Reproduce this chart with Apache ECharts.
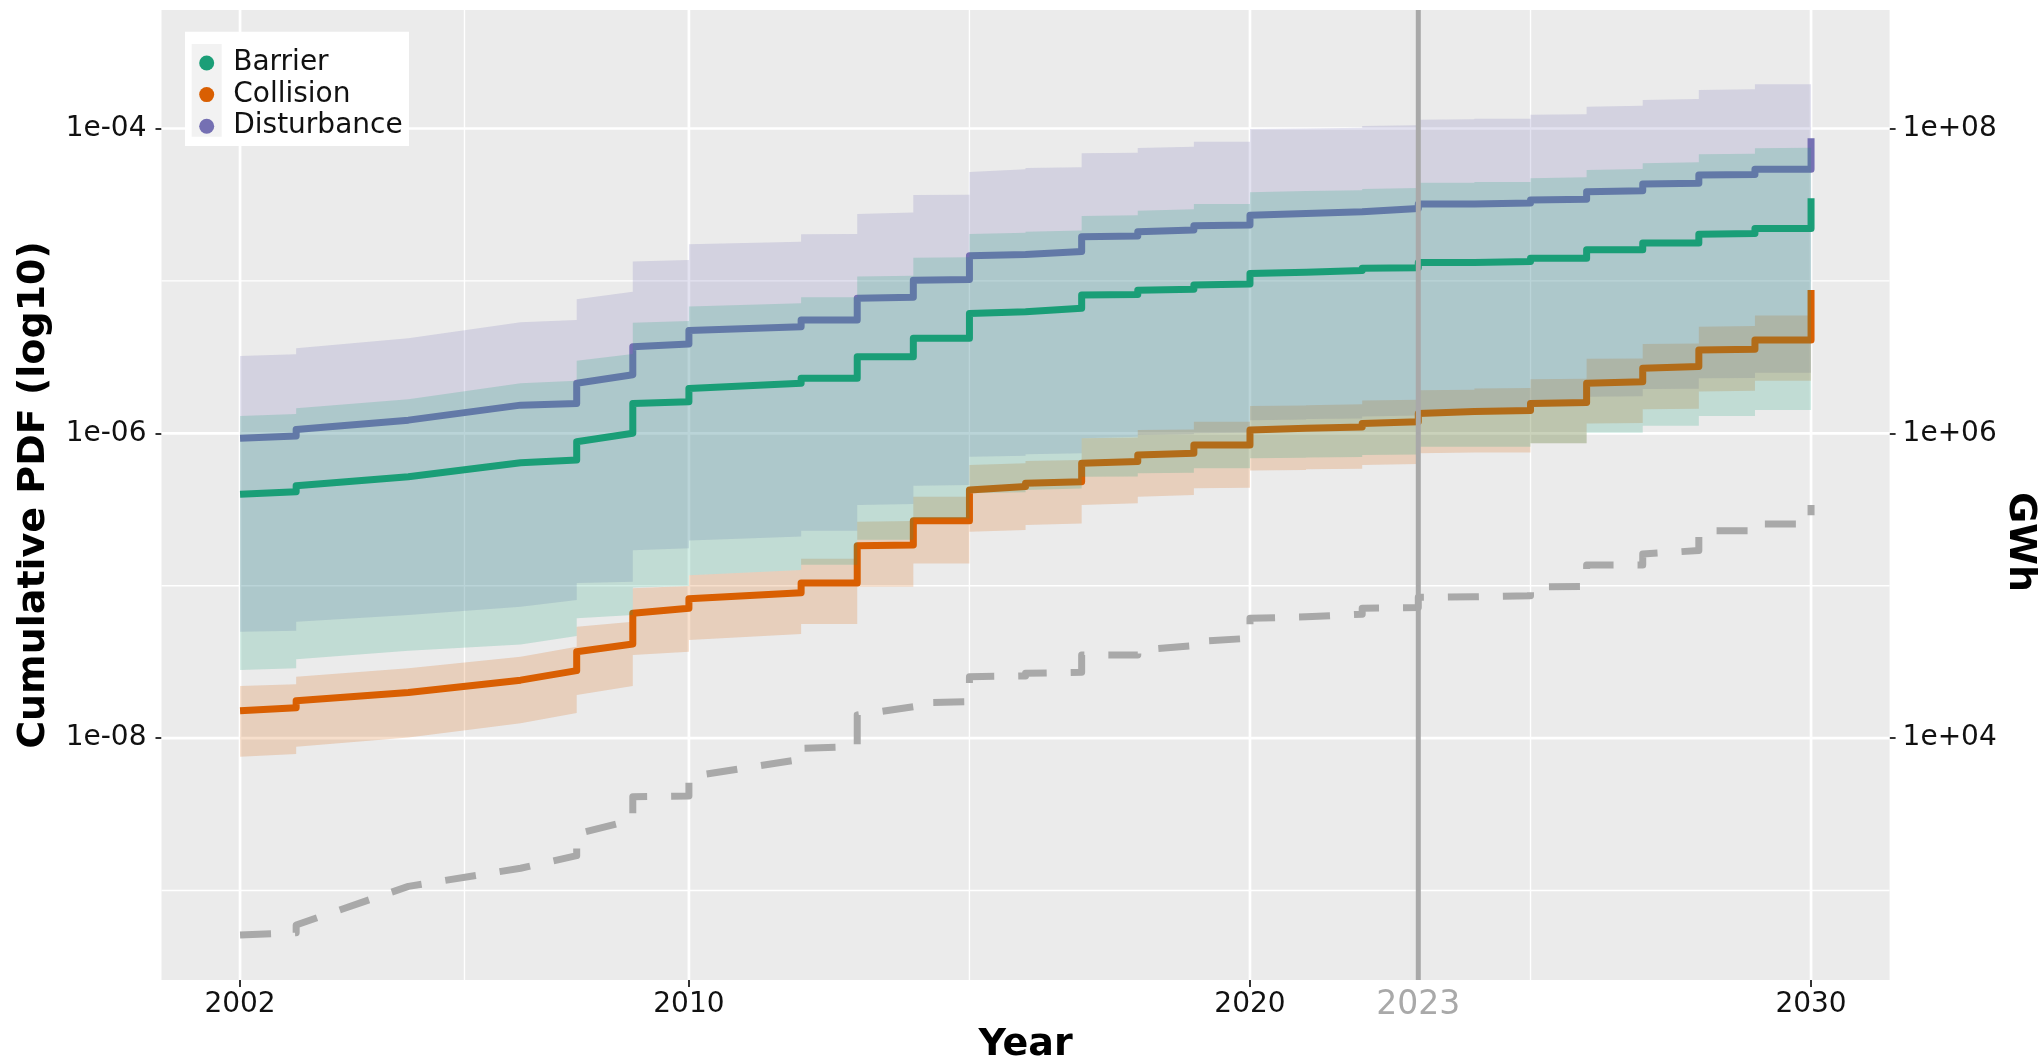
<!DOCTYPE html>
<html>
<head>
<meta charset="utf-8">
<script src="https://cdn.jsdelivr.net/npm/echarts@6/dist/echarts.min.js"></script>
<style>html,body{margin:0;padding:0;background:#fff;}#chart{width:2043px;height:1062px;}</style>
</head>
<body>
<div id="chart"></div>
<script>
// ---------- data ----------
const stepYears = [2002, 2003, 2005, 2007, 2008, 2009, 2010, 2012, 2013, 2014, 2015, 2016, 2017, 2018, 2019, 2020, 2021, 2022, 2023, 2024, 2025, 2026, 2027, 2028, 2029, 2030];

// value just before the step at each year / value right after it
const barrierBefore = [3.98e-7, 4.14e-7, 5.19e-7, 6.41e-7, 6.68e-7, 1.00e-6, 1.61e-6, 2.13e-6, 2.30e-6, 3.18e-6, 4.20e-6, 6.28e-6, 6.61e-6, 8.13e-6, 8.81e-6, 9.55e-6, 1.14e-5, 1.17e-5, 1.22e-5, 1.32e-5, 1.34e-5, 1.41e-5, 1.60e-5, 1.77e-5, 2.05e-5, 2.21e-5];
const barrierAfter  = [3.98e-7, 4.53e-7, 5.19e-7, 6.41e-7, 8.81e-7, 1.57e-6, 1.97e-6, 2.30e-6, 3.18e-6, 4.20e-6, 6.12e-6, 6.44e-6, 8.07e-6, 8.67e-6, 9.40e-6, 1.12e-5, 1.15e-5, 1.21e-5, 1.32e-5, 1.34e-5, 1.41e-5, 1.60e-5, 1.77e-5, 2.02e-5, 2.21e-5, 3.48e-5];
const barrierHiBefore = [1.30e-6, 1.34e-6, 1.67e-6, 2.13e-6, 2.21e-6, 3.31e-6, 5.46e-6, 7.13e-6, 7.80e-6, 1.08e-5, 1.43e-5, 2.07e-5, 2.14e-5, 2.70e-5, 2.95e-5, 3.20e-5, 3.89e-5, 3.94e-5, 4.07e-5, 4.41e-5, 4.46e-5, 4.79e-5, 5.42e-5, 6.00e-5, 6.84e-5, 7.48e-5];
const barrierHiAfter  = [1.30e-6, 1.46e-6, 1.67e-6, 2.13e-6, 2.99e-6, 5.32e-6, 6.78e-6, 7.80e-6, 1.07e-5, 1.42e-5, 2.03e-5, 2.10e-5, 2.67e-5, 2.89e-5, 3.20e-5, 3.81e-5, 3.89e-5, 4.01e-5, 4.41e-5, 4.46e-5, 4.71e-5, 5.35e-5, 5.92e-5, 6.78e-5, 7.41e-5, 7.48e-5];
const barrierLoBefore = [2.80e-8, 2.87e-8, 3.74e-8, 4.12e-8, 4.68e-8, 6.43e-8, 9.95e-8, 1.27e-7, 1.37e-7, 2.00e-7, 2.76e-7, 4.10e-7, 4.35e-7, 5.20e-7, 5.50e-7, 5.90e-7, 6.90e-7, 7.00e-7, 7.25e-7, 8.16e-7, 8.16e-7, 8.60e-7, 1.01e-6, 1.12e-6, 1.30e-6, 1.42e-6];
const barrierLoAfter  = [2.80e-8, 3.29e-8, 3.74e-8, 4.12e-8, 6.11e-8, 9.75e-8, 1.17e-7, 1.37e-7, 2.00e-7, 2.76e-7, 4.04e-7, 4.25e-7, 5.19e-7, 5.46e-7, 5.89e-7, 6.86e-7, 6.95e-7, 7.21e-7, 8.16e-7, 8.16e-7, 8.60e-7, 1.01e-6, 1.12e-6, 1.30e-6, 1.42e-6, 1.42e-6];

const collisionBefore = [1.51e-8, 1.58e-8, 1.99e-8, 2.40e-8, 2.77e-8, 4.14e-8, 7.11e-8, 8.99e-8, 1.04e-7, 1.85e-7, 2.67e-7, 4.47e-7, 4.81e-7, 6.52e-7, 7.40e-7, 8.38e-7, 1.08e-6, 1.10e-6, 1.19e-6, 1.39e-6, 1.41e-6, 1.59e-6, 2.18e-6, 2.74e-6, 3.56e-6, 4.09e-6];
const collisionAfter  = [1.51e-8, 1.76e-8, 1.99e-8, 2.40e-8, 3.69e-8, 6.59e-8, 8.20e-8, 1.04e-7, 1.83e-7, 2.67e-7, 4.25e-7, 4.70e-7, 6.35e-7, 7.21e-7, 8.38e-7, 1.05e-6, 1.08e-6, 1.16e-6, 1.35e-6, 1.41e-6, 1.57e-6, 2.13e-6, 2.67e-6, 3.52e-6, 4.09e-6, 8.71e-6];
const collisionHiBefore = [2.20e-8, 2.26e-8, 2.87e-8, 3.42e-8, 3.98e-8, 5.81e-8, 9.95e-8, 1.27e-7, 1.50e-7, 2.66e-7, 3.84e-7, 6.35e-7, 6.68e-7, 9.38e-7, 1.06e-6, 1.19e-6, 1.52e-6, 1.55e-6, 1.66e-6, 1.93e-6, 1.98e-6, 2.28e-6, 3.10e-6, 3.88e-6, 5.05e-6, 5.94e-6];
const collisionHiAfter  = [2.20e-8, 2.53e-8, 2.87e-8, 3.42e-8, 5.38e-8, 9.61e-8, 1.17e-7, 1.50e-7, 2.63e-7, 3.84e-7, 6.19e-7, 6.58e-7, 9.27e-7, 1.05e-6, 1.19e-6, 1.51e-6, 1.53e-6, 1.64e-6, 1.92e-6, 1.97e-6, 2.26e-6, 3.08e-6, 3.85e-6, 5.01e-6, 5.94e-6, 5.94e-6];
const collisionLoBefore = [7.55e-9, 7.87e-9, 1.01e-8, 1.25e-8, 1.46e-8, 2.20e-8, 3.69e-8, 4.82e-8, 5.61e-8, 9.86e-8, 1.40e-7, 2.32e-7, 2.56e-7, 3.48e-7, 3.94e-7, 4.40e-7, 5.75e-7, 5.85e-7, 6.30e-7, 7.47e-7, 7.47e-7, 8.60e-7, 1.17e-6, 1.45e-6, 1.90e-6, 2.21e-6];
const collisionLoAfter  = [7.55e-9, 8.79e-9, 1.01e-8, 1.25e-8, 1.92e-8, 3.51e-8, 4.41e-8, 5.61e-8, 9.86e-8, 1.40e-7, 2.26e-7, 2.50e-7, 3.39e-7, 3.84e-7, 4.36e-7, 5.69e-7, 5.81e-7, 6.19e-7, 7.40e-7, 7.47e-7, 8.59e-7, 1.16e-6, 1.44e-6, 1.88e-6, 2.21e-6, 2.21e-6];

const disturbanceBefore = [9.27e-7, 9.59e-7, 1.22e-6, 1.53e-6, 1.57e-6, 2.42e-6, 3.85e-6, 5.01e-6, 5.53e-6, 7.80e-6, 1.02e-5, 1.49e-5, 1.56e-5, 1.97e-5, 2.16e-5, 2.33e-5, 2.77e-5, 2.84e-5, 2.99e-5, 3.20e-5, 3.25e-5, 3.43e-5, 3.91e-5, 4.37e-5, 5.00e-5, 5.40e-5];
const disturbanceAfter  = [9.27e-7, 1.06e-6, 1.22e-6, 1.53e-6, 2.13e-6, 3.70e-6, 4.73e-6, 5.53e-6, 7.69e-6, 1.01e-5, 1.46e-5, 1.53e-5, 1.95e-5, 2.10e-5, 2.30e-5, 2.70e-5, 2.81e-5, 2.92e-5, 3.20e-5, 3.25e-5, 3.40e-5, 3.85e-5, 4.33e-5, 4.95e-5, 5.40e-5, 8.63e-5];
const disturbanceHiBefore = [3.21e-6, 3.30e-6, 4.20e-6, 5.35e-6, 5.53e-6, 8.49e-6, 1.37e-5, 1.81e-5, 2.03e-5, 2.81e-5, 3.68e-5, 5.40e-5, 5.56e-5, 6.93e-5, 7.60e-5, 8.18e-5, 1.00e-4, 1.01e-4, 1.05e-4, 1.15e-4, 1.16e-4, 1.24e-4, 1.41e-4, 1.56e-4, 1.81e-4, 1.95e-4];
const disturbanceHiAfter  = [3.21e-6, 3.61e-6, 4.20e-6, 5.35e-6, 7.57e-6, 1.34e-5, 1.74e-5, 2.02e-5, 2.75e-5, 3.66e-5, 5.19e-5, 5.51e-5, 6.87e-5, 7.45e-5, 8.18e-5, 9.93e-5, 1.00e-4, 1.04e-4, 1.14e-4, 1.16e-4, 1.23e-4, 1.39e-4, 1.54e-4, 1.79e-4, 1.95e-4, 1.95e-4];
const disturbanceLoBefore = [4.99e-8, 5.07e-8, 6.43e-8, 7.28e-8, 8.05e-8, 1.06e-7, 1.76e-7, 2.10e-7, 2.29e-7, 3.44e-7, 4.58e-7, 7.13e-7, 7.40e-7, 9.51e-7, 9.84e-7, 1.01e-6, 1.23e-6, 1.25e-6, 1.31e-6, 1.42e-6, 1.42e-6, 1.51e-6, 1.75e-6, 1.96e-6, 2.31e-6, 2.50e-6];
const disturbanceLoAfter  = [4.99e-8, 5.81e-8, 6.43e-8, 7.28e-8, 1.04e-7, 1.71e-7, 1.98e-7, 2.29e-7, 3.39e-7, 4.53e-7, 7.01e-7, 7.28e-7, 9.27e-7, 9.75e-7, 1.00e-6, 1.22e-6, 1.24e-6, 1.29e-6, 1.42e-6, 1.42e-6, 1.50e-6, 1.74e-6, 1.95e-6, 2.30e-6, 2.50e-6, 2.50e-6];

// energy (GWh, secondary axis)
const gwhBefore = [511, 528, 1064, 1400, 1692, 2904, 4170, 7260, 8790, 16070, 17330, 25600, 27000, 35100, 40370, 45180, 62500, 65000, 72000, 84500, 86000, 99000, 136800, 170000, 229600, 254000];
const gwhAfter  = [511, 594, 1064, 1400, 2350, 4130, 5580, 8570, 14190, 17060, 25290, 26600, 35080, 37840, 42950, 61090, 64270, 71120, 83900, 85910, 98400, 136800, 161500, 229600, 254000, 338800];

const seriesNames = ['Barrier', 'Collision', 'Disturbance'];
const xTickLabels = [2002, 2010, 2020, 2023, 2030];
const xTicks = [2002, 2010, 2020, 2030];
const xMinorGrid = [2006, 2015, 2025];
const yLeftTicks = [1e-8, 1e-6, 1e-4];
const yLeftMinorGrid = [1e-9, 1e-7, 1e-5];
const yRightTicks = [1e4, 1e6, 1e8];
const markYear = [2023];

// ---------- helpers ----------
function stepLine(years, before, after) {
  const pts = [];
  years.forEach((y, i) => {
    pts.push([y, before[i]]);
    if (after[i] !== before[i]) pts.push([y, after[i]]);
  });
  return pts;
}
function band(years, hiB, hiA, loB, loA) {
  const pts = [];
  years.forEach((y, i) => { pts.push([y, hiB[i]]); pts.push([y, hiA[i]]); });
  for (let i = years.length - 1; i >= 0; i--) { pts.push([years[i], loA[i]]); pts.push([years[i], loB[i]]); }
  return pts;
}
const COL = { Barrier: '#1B9E77', Collision: '#D95F02', Disturbance: '#7570B3' };
const FILL = { Barrier: 'rgba(27,158,119,0.2)', Collision: 'rgba(217,95,2,0.2)', Disturbance: 'rgba(117,112,179,0.2)' };
const FONT = 'DejaVu Sans';

function bandSeries(name, pts, z) {
  return {
    type: 'custom', name: name + ' band', z: z, silent: true,
    xAxisIndex: 0, yAxisIndex: 0,
    data: pts, encode: { x: 0, y: 1 },
    renderItem: function (params, api) {
      if (params.dataIndex !== 0) return null;
      const p = pts.map(d => api.coord(d));
      return { type: 'polygon', shape: { points: p }, style: { fill: FILL[name], stroke: null } };
    }
  };
}
function vLines(values, width, color, z) {
  return {
    type: 'custom', z: z, silent: true, xAxisIndex: 0, yAxisIndex: 0,
    data: values.map(v => [v, 1e-6]), encode: { x: 0, y: 1 },
    renderItem: function (params, api) {
      const cs = params.coordSys;
      const x = api.coord([api.value(0), 1e-6])[0];
      return { type: 'line', shape: { x1: x, y1: cs.y, x2: x, y2: cs.y + cs.height }, style: { stroke: color, lineWidth: width } };
    }
  };
}
function hLines(values, width, color, z) {
  return {
    type: 'custom', z: z, silent: true, xAxisIndex: 0, yAxisIndex: 0,
    data: values.map(v => [2010, v]), encode: { x: 0, y: 1 },
    renderItem: function (params, api) {
      const cs = params.coordSys;
      const y = api.coord([2010, api.value(1)])[1];
      return { type: 'line', shape: { x1: cs.x, y1: y, x2: cs.x + cs.width, y2: y }, style: { stroke: color, lineWidth: width } };
    }
  };
}
function lineSeries(name, pts, color, yIdx, dashed) {
  return {
    type: 'line', name: name, z: 4, silent: true,
    xAxisIndex: 0, yAxisIndex: yIdx,
    data: pts, showSymbol: false, symbol: 'none', smooth: false,
    lineStyle: { color: color, width: 7, cap: 'butt', join: 'round', type: dashed ? [31, 24] : 'solid' },
    itemStyle: { color: color },
    emphasis: { disabled: true }
  };
}
function expLabel(v) {
  const e = Math.round(Math.log10(v));
  const a = Math.abs(e);
  return '1e' + (e < 0 ? '-' : '+') + (a < 10 ? '0' + a : '' + a);
}

const chart = echarts.init(document.getElementById('chart'), null, { renderer: 'canvas' });
const tickStyle = { color: '#333333', width: 2 };
const option = {
  animation: false,
  backgroundColor: '#FFFFFF',
  grid: { left: 161.5, right: 153.4, top: 10, bottom: 82, show: true, backgroundColor: '#EBEBEB', borderWidth: 0, containLabel: false, outerBoundsMode: 'none' },
  xAxis: {
    type: 'value', min: 2000.6, max: 2031.4,
    axisLine: { show: false },
    splitLine: { show: false },
    axisTick: { show: true, customValues: xTicks, length: 7, lineStyle: tickStyle },
    axisLabel: {
      customValues: xTickLabels, margin: 11,
      formatter: v => (v === 2023 ? '{hl|' + v + '}' : '{n|' + v + '}'),
      rich: {
        n: { fontSize: 28, fontFamily: FONT, color: '#111111', lineHeight: 28 },
        hl: { fontSize: 33, fontFamily: FONT, color: '#A9A9A9', lineHeight: 28 }
      }
    },
    name: 'Year', nameLocation: 'middle', nameGap: 41,
    nameTextStyle: { fontSize: 38, fontWeight: 'bold', fontFamily: FONT, color: '#000000' }
  },
  yAxis: [
    {
      type: 'log', logBase: 10, position: 'left',
      min: Math.pow(10, -9.5873), max: Math.pow(10, -3.2224),
      axisLine: { show: false }, splitLine: { show: false }, minorSplitLine: { show: false },
      axisTick: { show: true, customValues: yLeftTicks, length: 6, lineStyle: tickStyle },
      axisLabel: { customValues: yLeftTicks, margin: 15, fontSize: 28, fontFamily: FONT, color: '#111111', formatter: v => expLabel(v) },
      name: 'Cumulative PDF (log10)', nameLocation: 'middle', nameGap: 108,
      nameTextStyle: { fontSize: 38, fontWeight: 'bold', fontFamily: FONT, color: '#000000' }
    },
    {
      type: 'log', logBase: 10, position: 'right',
      min: Math.pow(10, 2.4127), max: Math.pow(10, 8.7776),
      axisLine: { show: false }, splitLine: { show: false }, minorSplitLine: { show: false },
      axisTick: { show: true, customValues: yRightTicks, length: 6, lineStyle: tickStyle },
      axisLabel: { customValues: yRightTicks, margin: 13, fontSize: 28, fontFamily: FONT, color: '#111111', formatter: v => expLabel(v) },
      name: 'GWh', nameLocation: 'middle', nameGap: 111, nameRotate: -90, nameMoveOverlap: false,
      nameTextStyle: { fontSize: 38, fontWeight: 'bold', fontFamily: FONT, color: '#000000', padding: [0, 0, 0, 94] }
    }
  ],
  legend: {
    show: true, orient: 'vertical', left: 199.2, top: 49, padding: 0,
    itemWidth: 15, itemHeight: 15, itemGap: 3.6, icon: 'circle', z: 12,
    selectedMode: false,
    textStyle: { fontSize: 28, fontFamily: FONT, color: '#111111', lineHeight: 28, padding: [0, 0, 0, 14] },
    data: seriesNames.map(n => ({ name: n, icon: 'circle', itemStyle: { color: COL[n], borderWidth: 0 } }))
  },
  graphic: [
    { type: 'rect', z: 10, silent: true, shape: { x: 185, y: 31.7, width: 224, height: 114.3 }, style: { fill: '#FFFFFF' } },
    { type: 'rect', z: 11, silent: true, shape: { x: 191.7, y: 44, width: 30, height: 92.7 }, style: { fill: '#F2F2F2' } }
  ],
  series: [
    vLines(xMinorGrid, 1.4, '#FFFFFF', 1),
    hLines(yLeftMinorGrid, 1.4, '#FFFFFF', 1),
    vLines(xTicks, 2.7, '#FFFFFF', 1),
    hLines(yLeftTicks, 2.7, '#FFFFFF', 1),
    bandSeries('Disturbance', band(stepYears, disturbanceHiBefore, disturbanceHiAfter, disturbanceLoBefore, disturbanceLoAfter), 2),
    bandSeries('Collision', band(stepYears, collisionHiBefore, collisionHiAfter, collisionLoBefore, collisionLoAfter), 3),
    lineSeries('Barrier', stepLine(stepYears, barrierBefore, barrierAfter), COL.Barrier, 0, false),
    lineSeries('Collision', stepLine(stepYears, collisionBefore, collisionAfter), COL.Collision, 0, false),
    lineSeries('Disturbance', stepLine(stepYears, disturbanceBefore, disturbanceAfter), COL.Disturbance, 0, false),
    lineSeries('Energy', stepLine(stepYears, gwhBefore, gwhAfter), '#A9A9A9', 1, true),
    bandSeries('Barrier', band(stepYears, barrierHiBefore, barrierHiAfter, barrierLoBefore, barrierLoAfter), 5),
    vLines(markYear, 5, '#A9A9A9', 6)
  ]
};
chart.setOption(option);
</script>
</body>
</html>
